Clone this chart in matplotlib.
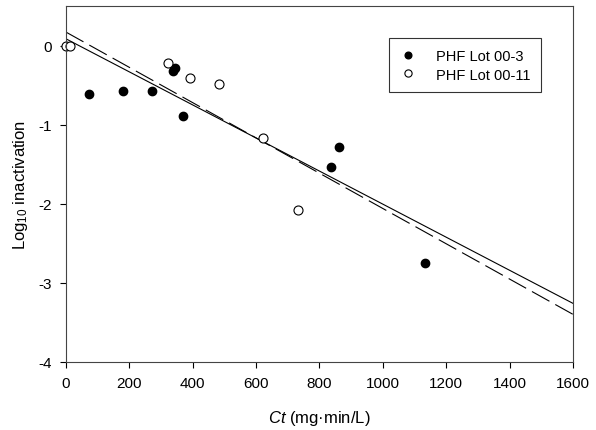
import matplotlib.pyplot as plt
import numpy as np

plt.rcParams['font.family'] = ['Liberation Sans', 'DejaVu Sans']
plt.rcParams['axes.unicode_minus'] = False
plt.rcParams['mathtext.fontset'] = 'custom'
plt.rcParams['mathtext.rm'] = 'Liberation Sans'
plt.rcParams['mathtext.it'] = 'Liberation Sans:italic'

# PHF Lot 00-3 (filled)
lot3_ct = [74, 179, 270, 337, 343, 370, 837, 862, 1132]
lot3_log = [-0.61, -0.58, -0.58, -0.32, -0.28, -0.89, -1.54, -1.28, -2.75]

# PHF Lot 00-11 (open)
lot11_ct = [0, 12, 322, 390, 483, 623, 733]
lot11_log = [0.0, 0.0, -0.22, -0.41, -0.48, -1.17, -2.08]

# regression lines (intercept, slope)
solid_fit = (0.085, -0.00209)
dashed_fit = (0.17, -0.00223)

fig = plt.figure(figsize=(5.96, 4.31), dpi=100)
ax = fig.add_axes([0.1107, 0.1578, 0.8507, 0.826])

xs = np.array([0, 1600])
ax.plot(xs, solid_fit[0] + solid_fit[1] * xs, color='black', lw=0.8)
ax.plot(xs, dashed_fit[0] + dashed_fit[1] * xs, color='black', lw=0.8, dashes=(18, 6))

ax.plot(lot3_ct, lot3_log, 'o', color='black', ms=6, label='PHF Lot 00-3', clip_on=False)
ax.plot(lot11_ct, lot11_log, 'o', mfc='white', mec='black', mew=0.8, ms=6.5,
        label='PHF Lot 00-11', clip_on=False)

ax.set_xlim(0, 1600)
ax.set_ylim(-4, 0.5)
ax.set_xticks(range(0, 1601, 200))
ax.set_yticks([-4, -3, -2, -1, 0])
ax.tick_params(direction='out', length=4, width=0.8, labelsize=11, pad=6)
for s in ax.spines.values():
    s.set_linewidth(0.8)
    s.set_color('#444444')

ax.set_xlabel('$Ct$ (mg·min/L)', fontsize=12, labelpad=13)
ax.set_ylabel('Log$_{10}$ inactivation', fontsize=12, labelpad=6)

leg = ax.legend(loc='upper right', bbox_to_anchor=(0.952, 0.93), fontsize=10.5,
                frameon=True, fancybox=False, edgecolor='black', handlelength=1.2,
                handletextpad=1.3, borderpad=0.75, labelspacing=0.3, markerscale=0.8)
leg.get_frame().set_linewidth(0.8)

fig.savefig('out.png', dpi=100)
